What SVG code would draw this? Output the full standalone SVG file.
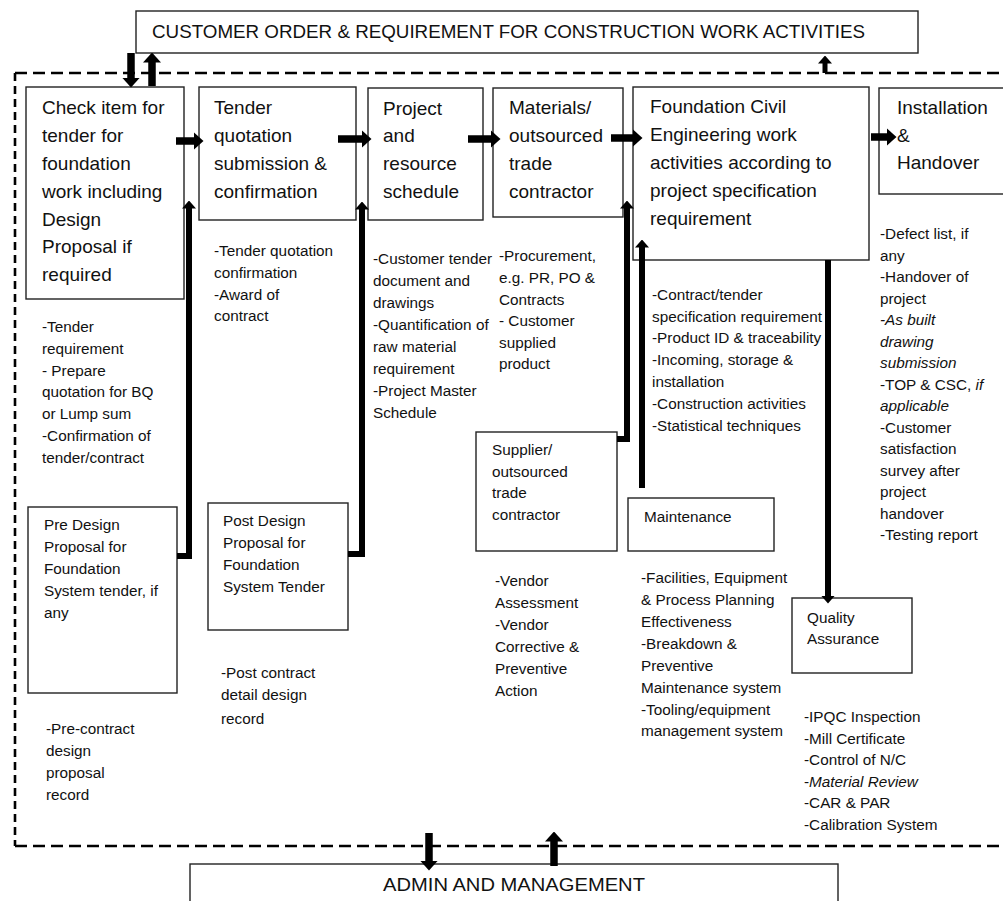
<svg xmlns="http://www.w3.org/2000/svg" width="1003" height="901" viewBox="0 0 1003 901">
<style>
text{font-family:"Liberation Sans",Arial,sans-serif;fill:#111}
.h{font-size:18.5px}
.t{font-size:19px}
.n{font-size:15.3px}
.i{font-style:italic}
.box{fill:#fff;stroke:#222;stroke-width:1.4}
.dash{fill:none;stroke:#000;stroke-width:2.6}
.big{stroke:#000;stroke-width:7.5;fill:none;marker-end:url(#mb)}
.con{stroke:#000;stroke-width:6;fill:none;stroke-linejoin:miter;marker-end:url(#ms)}
</style>
<defs>
<marker id="mb" markerUnits="userSpaceOnUse" markerWidth="10" markerHeight="18" viewBox="0 0 10 18" refX="0.5" refY="9" orient="auto"><path d="M0,0 L10,9 L0,18 z" fill="#000"/></marker>
<marker id="ms" markerUnits="userSpaceOnUse" markerWidth="8" markerHeight="14" viewBox="0 0 8 14" refX="0.5" refY="7" orient="auto"><path d="M0,0 L8,7 L0,14 z" fill="#000"/></marker>
</defs>
<rect width="1003" height="901" fill="#fff"/>

<g id="boundary">
<line class="dash" x1="15" y1="73" x2="1003" y2="73" stroke-dasharray="12 6"/>
<line class="dash" x1="15" y1="846" x2="1003" y2="846" stroke-dasharray="12 6"/>
<line class="dash" x1="15" y1="73" x2="15" y2="846" stroke-dasharray="8 5"/>
</g>

<g id="customer">
<rect class="box" x="136" y="11" width="782" height="42"/>
<text class="h" x="152" y="38" textLength="713" lengthAdjust="spacingAndGlyphs">CUSTOMER ORDER &amp; REQUIREMENT FOR CONSTRUCTION WORK ACTIVITIES</text>
</g>

<g id="admin">
<rect class="box" x="190" y="864" width="648" height="50"/>
<text class="h" x="383" y="891" textLength="262" lengthAdjust="spacingAndGlyphs">ADMIN AND MANAGEMENT</text>
</g>

<g id="check">
<rect class="box" x="26" y="87" width="158" height="212"/>
<text class="t" x="42" y="114">Check item for</text>
<text class="t" x="42" y="142">tender for</text>
<text class="t" x="42" y="170">foundation</text>
<text class="t" x="42" y="198">work including</text>
<text class="t" x="42" y="226">Design</text>
<text class="t" x="42" y="253">Proposal if</text>
<text class="t" x="42" y="281">required</text>
<text class="n" x="42" y="332">-Tender</text>
<text class="n" x="42" y="354">requirement</text>
<text class="n" x="42" y="376">- Prepare</text>
<text class="n" x="42" y="397">quotation for BQ</text>
<text class="n" x="42" y="419">or Lump sum</text>
<text class="n" x="42" y="441">-Confirmation of</text>
<text class="n" x="42" y="463">tender/contract</text>
</g>

<g id="tender">
<rect class="box" x="199" y="87" width="157" height="133"/>
<text class="t" x="214" y="114">Tender</text>
<text class="t" x="214" y="142">quotation</text>
<text class="t" x="214" y="170">submission &amp;</text>
<text class="t" x="214" y="198">confirmation</text>
<text class="n" x="214" y="256">-Tender quotation</text>
<text class="n" x="214" y="278">confirmation</text>
<text class="n" x="214" y="300">-Award of</text>
<text class="n" x="214" y="321">contract</text>
</g>

<g id="project">
<rect class="box" x="368" y="88" width="115" height="132"/>
<text class="t" x="383" y="115">Project</text>
<text class="t" x="383" y="142">and</text>
<text class="t" x="383" y="170">resource</text>
<text class="t" x="383" y="198">schedule</text>
<text class="n" x="373" y="264">-Customer tender</text>
<text class="n" x="373" y="286">document and</text>
<text class="n" x="373" y="308">drawings</text>
<text class="n" x="373" y="330">-Quantification of</text>
<text class="n" x="373" y="352">raw material</text>
<text class="n" x="373" y="374">requirement</text>
<text class="n" x="373" y="396">-Project Master</text>
<text class="n" x="373" y="418">Schedule</text>
</g>

<g id="materials">
<rect class="box" x="493" y="88" width="130" height="129"/>
<text class="t" x="509" y="114">Materials/</text>
<text class="t" x="509" y="142">outsourced</text>
<text class="t" x="509" y="170">trade</text>
<text class="t" x="509" y="198">contractor</text>
<text class="n" x="499" y="261">-Procurement,</text>
<text class="n" x="499" y="283">e.g. PR, PO &amp;</text>
<text class="n" x="499" y="305">Contracts</text>
<text class="n" x="499" y="326">- Customer</text>
<text class="n" x="499" y="348">supplied</text>
<text class="n" x="499" y="369">product</text>
</g>

<g id="foundation">
<rect class="box" x="633" y="87" width="236" height="173"/>
<text class="t" x="650" y="113">Foundation Civil</text>
<text class="t" x="650" y="141">Engineering work</text>
<text class="t" x="650" y="169">activities according to</text>
<text class="t" x="650" y="197">project specification</text>
<text class="t" x="650" y="225">requirement</text>
<text class="n" x="652" y="300">-Contract/tender</text>
<text class="n" x="652" y="322">specification requirement</text>
<text class="n" x="652" y="343">-Product ID &amp; traceability</text>
<text class="n" x="652" y="365">-Incoming, storage &amp;</text>
<text class="n" x="652" y="387">installation</text>
<text class="n" x="652" y="409">-Construction activities</text>
<text class="n" x="652" y="431">-Statistical techniques</text>
</g>

<g id="installation">
<rect class="box" x="879" y="88" width="134" height="106"/>
<text class="t" x="897" y="114">Installation</text>
<text class="t" x="897" y="142">&amp;</text>
<text class="t" x="897" y="169">Handover</text>
<text class="n" x="880" y="239">-Defect list, if</text>
<text class="n" x="880" y="260.5">any</text>
<text class="n" x="880" y="282">-Handover of</text>
<text class="n" x="880" y="303.5">project</text>
<text class="n i" x="880" y="325">-As built</text>
<text class="n i" x="880" y="346.5">drawing</text>
<text class="n i" x="880" y="368">submission</text>
<text class="n" x="880" y="389.5">-TOP &amp; CSC, <tspan class="i">if</tspan></text>
<text class="n i" x="880" y="411">applicable</text>
<text class="n" x="880" y="432.5">-Customer</text>
<text class="n" x="880" y="454">satisfaction</text>
<text class="n" x="880" y="475.5">survey after</text>
<text class="n" x="880" y="497">project</text>
<text class="n" x="880" y="518.5">handover</text>
<text class="n" x="880" y="540">-Testing report</text>
</g>

<g id="predesign">
<rect class="box" x="28" y="507" width="149" height="186"/>
<text class="n" x="44" y="530">Pre Design</text>
<text class="n" x="44" y="552">Proposal for</text>
<text class="n" x="44" y="574">Foundation</text>
<text class="n" x="44" y="596">System tender, if</text>
<text class="n" x="44" y="618">any</text>
<text class="n" x="46" y="734">-Pre-contract</text>
<text class="n" x="46" y="756">design</text>
<text class="n" x="46" y="778">proposal</text>
<text class="n" x="46" y="800">record</text>
</g>

<g id="postdesign">
<rect class="box" x="208" y="503" width="140" height="127"/>
<text class="n" x="223" y="526">Post Design</text>
<text class="n" x="223" y="548">Proposal for</text>
<text class="n" x="223" y="570">Foundation</text>
<text class="n" x="223" y="592">System Tender</text>
<text class="n" x="221" y="678">-Post contract</text>
<text class="n" x="221" y="700">detail design</text>
<text class="n" x="221" y="724">record</text>
</g>

<g id="supplier">
<rect class="box" x="476" y="432" width="141" height="119"/>
<text class="n" x="492" y="455">Supplier/</text>
<text class="n" x="492" y="477">outsourced</text>
<text class="n" x="492" y="498">trade</text>
<text class="n" x="492" y="520">contractor</text>
<text class="n" x="495" y="586">-Vendor</text>
<text class="n" x="495" y="608">Assessment</text>
<text class="n" x="495" y="630">-Vendor</text>
<text class="n" x="495" y="652">Corrective &amp;</text>
<text class="n" x="495" y="674">Preventive</text>
<text class="n" x="495" y="696">Action</text>
</g>

<g id="maintenance">
<rect class="box" x="628" y="498" width="146" height="53"/>
<text class="n" x="644" y="522">Maintenance</text>
<text class="n" x="641" y="583">-Facilities, Equipment</text>
<text class="n" x="641" y="605">&amp; Process Planning</text>
<text class="n" x="641" y="627">Effectiveness</text>
<text class="n" x="641" y="649">-Breakdown &amp;</text>
<text class="n" x="641" y="671">Preventive</text>
<text class="n" x="641" y="692.5">Maintenance system</text>
<text class="n" x="641" y="714.5">-Tooling/equipment</text>
<text class="n" x="641" y="736">management system</text>
</g>

<g id="quality">
<rect class="box" x="792" y="598" width="120" height="75"/>
<text class="n" x="807" y="623">Quality</text>
<text class="n" x="807" y="644">Assurance</text>
<text class="n" x="804" y="722">-IPQC Inspection</text>
<text class="n" x="804" y="743.5">-Mill Certificate</text>
<text class="n" x="804" y="765">-Control of N/C</text>
<text class="n" x="804" y="786.5">-<tspan class="i">Material Review</tspan></text>
<text class="n" x="804" y="808">-CAR &amp; PAR</text>
<text class="n" x="804" y="829.5">-Calibration System</text>
</g>

<g id="connectors">
<line class="big" x1="131" y1="53" x2="131" y2="78"/>
<line class="big" x1="152" y1="86" x2="152" y2="62"/>
<line class="con" x1="825" y1="73" x2="825" y2="63" style="stroke-width:5"/>
<line class="big" x1="429" y1="833" x2="429" y2="861"/>
<line class="big" x1="554" y1="866" x2="554" y2="841"/>
<line class="big" x1="176" y1="141" x2="194" y2="141"/>
<line class="big" x1="338" y1="139" x2="362" y2="139"/>
<line class="big" x1="468" y1="139" x2="491" y2="139"/>
<line class="big" x1="611" y1="138" x2="633" y2="138"/>
<line class="big" x1="871" y1="137" x2="887" y2="137"/>
<polyline class="con" points="177,556 189,556 189,208"/>
<polyline class="con" points="348,554 362,554 362,209"/>
<polyline class="con" points="617,439 627,439 627,208"/>
<line class="con" x1="642" y1="488" x2="642" y2="247"/>
<line class="con" x1="828" y1="260" x2="828" y2="596"/>
</g>
</svg>
